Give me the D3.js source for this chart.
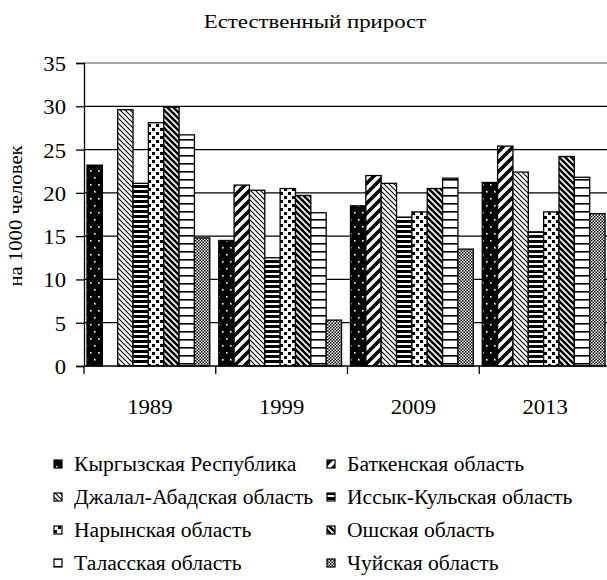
<!DOCTYPE html>
<html>
<head>
<meta charset="utf-8">
<script src="https://cdn.jsdelivr.net/npm/d3@7"></script>
<style>
  body { margin: 0; background: #fff; }
  text { font-family: "Liberation Serif", "Times New Roman", serif; fill: #000; }
</style>
</head>
<body>
<svg width="607" height="580"></svg>
<script>
var svg = d3.select("svg"),
    width = +svg.attr("width"),
    height = +svg.attr("height");

// data (per 1000 people)
var years = ["1989", "1999", "2009", "2013"];
var regions = ["Кыргызская Республика", "Баткенская область", "Джалал-Абадская область",
    "Иссык-Кульская область", "Нарынская область", "Ошская область",
    "Таласская область", "Чуйская область"];
var kyrgyz   = [23.2, 14.5, 18.5, 21.2];
var batken   = [null, 20.9, 22.0, 25.4];
var jalal    = [29.6, 20.3, 21.1, 22.4];
var issyk    = [21.1, 12.5, 17.2, 15.5];
var naryn    = [28.1, 20.5, 17.8, 17.8];
var osh      = [29.9, 19.7, 20.5, 24.2];
var talas    = [26.7, 17.7, 21.7, 21.8];
var chui     = [14.8, 5.3, 13.5, 17.6];
var series = [kyrgyz, batken, jalal, issyk, naryn, osh, talas, chui];
var yTicks = [0, 5, 10, 15, 20, 25, 30, 35];

var plot = {left: 84, right: 611, top: 63, bottom: 366};

// the source text is a bit wider than Liberation Serif, stretch it
function stretch(sel, k) {
    sel.each(function() {
        var w = this.getComputedTextLength();
        d3.select(this).attr("textLength", w * k).attr("lengthAdjust", "spacingAndGlyphs");
    });
}

// fill patterns, one per region
var defs = svg.append("defs");
function pat(id, w, h, bg) {
    var p = defs.append("pattern").attr("id", id)
        .attr("patternUnits", "userSpaceOnUse")
        .attr("width", w).attr("height", h);
    p.append("rect").attr("width", w).attr("height", h).attr("fill", bg);
    return p;
}
// 0 black with white dots
var p0 = pat("p0", 8, 14, "#000");
p0.append("rect").attr("x", 2).attr("y", 2).attr("width", 1.6).attr("height", 1.6).attr("fill", "#fff");
p0.append("rect").attr("x", 6).attr("y", 9).attr("width", 1.6).attr("height", 1.6).attr("fill", "#fff");
// 1 wide upward diagonal
var p1 = pat("p1", 10, 10, "#fff");
p1.append("path").attr("d", "M-2,2 L2,-2 M0,10 L10,0 M8,12 L12,8")
    .attr("stroke", "#000").attr("stroke-width", 3.6);
// 2 light downward diagonal
var p2 = pat("p2", 5, 5, "#fff");
p2.append("path").attr("d", "M-1,4 L1,6 M0,0 L5,5 M4,-1 L6,1")
    .attr("stroke", "#000").attr("stroke-width", 1.1);
// 3 dark horizontal
var p3 = pat("p3", 6, 5, "#fff");
p3.append("rect").attr("y", 0).attr("width", 6).attr("height", 3).attr("fill", "#000");
// 4 large confetti squares
var p4 = pat("p4", 8, 8, "#fff");
p4.append("rect").attr("x", 0).attr("y", 0).attr("width", 3).attr("height", 3).attr("fill", "#000");
p4.append("rect").attr("x", 4).attr("y", 4).attr("width", 3).attr("height", 3).attr("fill", "#000");
// 5 dark downward diagonal
var p5 = pat("p5", 6, 6, "#fff");
p5.append("path").attr("d", "M-1,5 L1,7 M0,0 L6,6 M5,-1 L7,1")
    .attr("stroke", "#000").attr("stroke-width", 2.6);
// 6 narrow horizontal lines
var p6 = pat("p6", 6, 8, "#fff");
p6.append("rect").attr("y", 3).attr("width", 6).attr("height", 1.6).attr("fill", "#000");
// 7 small checker
var p7 = pat("p7", 3, 3, "#fff");
p7.append("rect").attr("width", 1.5).attr("height", 1.5).attr("fill", "#000");
p7.append("rect").attr("x", 1.5).attr("y", 1.5).attr("width", 1.5).attr("height", 1.5).attr("fill", "#000");

var x0 = d3.scaleBand().domain(years).range([plot.left, plot.right]);
var x1 = d3.scaleBand().domain(d3.range(regions.length)).range([3, 3 + x0.bandwidth() * 0.932]);
var y = d3.scaleLinear().domain([0, 35]).range([plot.bottom, plot.top]);

// gridlines
svg.append("g")
  .selectAll("line")
  .data(yTicks.slice(1))
  .enter().append("line")
    .attr("x1", plot.left).attr("x2", plot.right)
    .attr("y1", function(d) { return y(d); })
    .attr("y2", function(d) { return y(d); })
    .attr("stroke", function(d) { return d === 35 ? "#888" : "#000"; })
    .attr("stroke-width", function(d) { return d === 35 ? 1.6 : 1.2; });

// bars
var rows = [];
years.forEach(function(yr, i) {
    series.forEach(function(s, j) {
        if (s[i] != null) rows.push({year: yr, k: j, v: s[i]});
    });
});
svg.append("g")
  .selectAll("rect")
  .data(rows)
  .enter().append("rect")
    .attr("x", function(d) { return x0(d.year) + x1(d.k); })
    .attr("width", x1.bandwidth())
    .attr("y", function(d) { return y(d.v); })
    .attr("height", function(d) { return y(0) - y(d.v); })
    .attr("fill", function(d) { return "url(#p" + d.k + ")"; })
    .attr("stroke", "#000")
    .attr("stroke-width", 1.3);

// y axis
var yAxis = svg.append("g")
    .attr("transform", "translate(" + plot.left + ",0)")
    .call(d3.axisLeft(y).tickValues(yTicks).tickSize(8).tickPadding(10));
yAxis.select(".domain").attr("stroke", "#000").attr("stroke-width", 1.3);
yAxis.selectAll(".tick line").attr("stroke", "#000").attr("stroke-width", 1.3);
yAxis.selectAll("text").attr("font-size", 21).attr("font-family", "Liberation Serif")
    .attr("dy", "0.36em").call(stretch, 1.08);

// x axis: line, boundary ticks, labels
svg.append("line")
    .attr("x1", plot.left).attr("x2", plot.right)
    .attr("y1", y(0)).attr("y2", y(0))
    .attr("stroke", "#000").attr("stroke-width", 1.4);
var bounds = years.map(function(d) { return x0(d); }).concat([plot.right]);
svg.append("g")
  .selectAll("line")
  .data(bounds)
  .enter().append("line")
    .attr("x1", function(d) { return d; }).attr("x2", function(d) { return d; })
    .attr("y1", y(0)).attr("y2", y(0) + 8)
    .attr("stroke", "#000").attr("stroke-width", 1.3);
svg.append("g")
  .selectAll("text")
  .data(years)
  .enter().append("text")
    .attr("x", function(d) { return x0(d) + x0.bandwidth() / 2; })
    .attr("y", 414)
    .attr("text-anchor", "middle")
    .attr("font-size", 21)
    .text(function(d) { return d; })
    .call(stretch, 1.08);

// title and y label
svg.append("text")
    .attr("x", 315).attr("y", 28)
    .attr("text-anchor", "middle")
    .attr("font-size", 19)
    .text("Естественный прирост")
    .call(stretch, 1.2);
svg.append("text")
    .attr("transform", "translate(22,216) rotate(-90)")
    .attr("text-anchor", "middle")
    .attr("font-size", 19)
    .text("на 1000 человек")
    .call(stretch, 1.09);

// legend, two columns
var lg = svg.append("g")
  .selectAll("g")
  .data(regions)
  .enter().append("g")
    .attr("transform", function(d, i) {
        var col = i % 2, row = Math.floor(i / 2);
        return "translate(" + (col ? 327 : 54) + "," + (464 + row * 33) + ")";
    });
lg.append("rect")
    .attr("x", 0).attr("y", -4)
    .attr("width", 8).attr("height", 8)
    .attr("fill", function(d, i) { return "url(#p" + i + ")"; })
    .attr("stroke", "#000").attr("stroke-width", 1.2);
lg.append("text")
    .attr("x", 20).attr("y", 7)
    .attr("font-size", 20)
    .text(function(d) { return d; })
    .call(stretch, 1.08);
</script>
</body>
</html>
